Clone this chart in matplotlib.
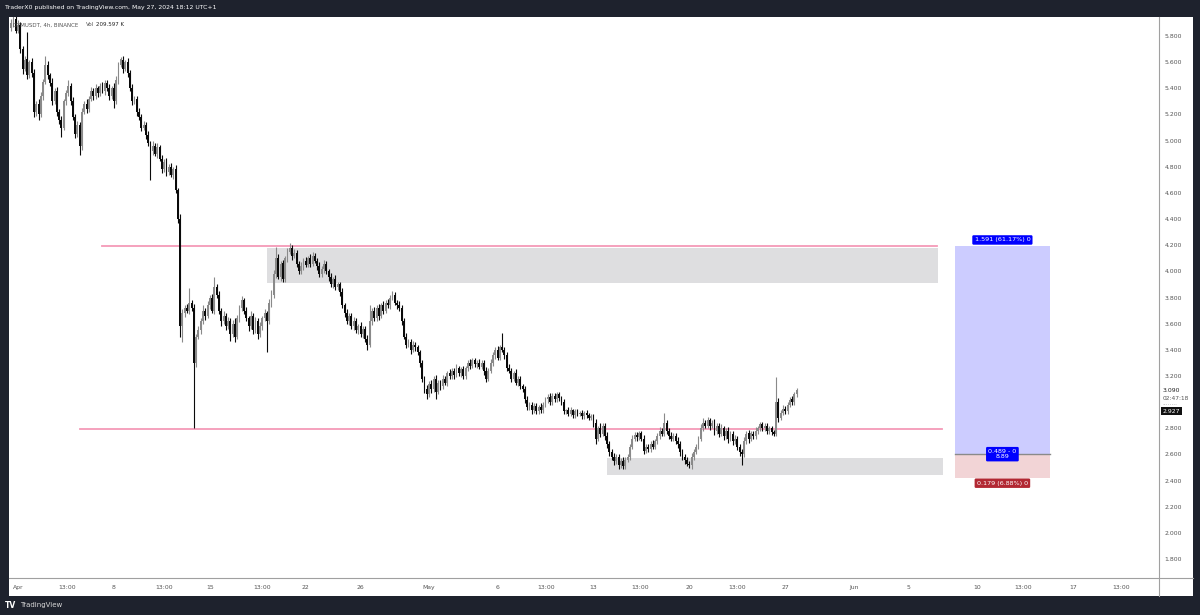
import numpy as np
import matplotlib
matplotlib.use("Agg")
import matplotlib.pyplot as plt
from matplotlib.patches import Rectangle
from matplotlib.lines import Line2D

# 4h candles, first one at Mar 31 12:00 (days counted from Apr 1 00:00)
T0 = -0.5
FIRST_OPEN = 5.86
CLOSE = [
    5.90, 5.93, 5.84, 5.88, 5.70, 5.55, 5.62, 5.50, 5.60, 5.52,
    5.22, 5.28, 5.20, 5.34, 5.45, 5.58, 5.50, 5.44, 5.30, 5.38,
    5.22, 5.16, 5.10, 5.30, 5.36, 5.42, 5.30, 5.18, 5.05, 5.12,
    4.96, 5.22, 5.28, 5.24, 5.32, 5.38, 5.34, 5.40, 5.36, 5.42,
    5.38, 5.44, 5.40, 5.34, 5.40, 5.30, 5.46, 5.58, 5.62, 5.55,
    5.60, 5.52, 5.40, 5.30, 5.32, 5.22, 5.18, 5.10, 5.12, 5.04,
    4.98, 4.92, 4.96, 4.90, 4.95, 4.86, 4.78, 4.84, 4.76, 4.80,
    4.74, 4.78, 4.62, 4.40, 3.58, 3.68, 3.72, 3.70, 3.76, 3.72,
    3.30, 3.50, 3.55, 3.62, 3.70, 3.66, 3.74, 3.80, 3.70, 3.88,
    3.82, 3.70, 3.62, 3.66, 3.58, 3.62, 3.52, 3.60, 3.50, 3.64,
    3.72, 3.78, 3.70, 3.64, 3.58, 3.66, 3.55, 3.62, 3.52, 3.58,
    3.64, 3.68, 3.62, 3.76, 3.82, 3.98, 4.10, 3.96, 4.06, 3.94,
    4.10, 4.15, 4.18, 4.12, 4.14, 4.06, 4.00, 4.04, 4.08, 4.05,
    4.10, 4.06, 4.12, 4.08, 4.04, 3.98, 4.02, 4.06, 4.00, 3.96,
    3.90, 3.94, 3.88, 3.90, 3.84, 3.74, 3.68, 3.62, 3.66, 3.58,
    3.62, 3.55, 3.58, 3.52, 3.56, 3.48, 3.44, 3.62, 3.70, 3.64,
    3.72, 3.66, 3.74, 3.70, 3.76, 3.74, 3.80, 3.82, 3.76, 3.74,
    3.72, 3.62, 3.50, 3.44, 3.46, 3.40, 3.44, 3.42, 3.38, 3.30,
    3.18, 3.10, 3.06, 3.14, 3.10, 3.18, 3.08, 3.15, 3.12, 3.18,
    3.15, 3.22, 3.20, 3.24, 3.21, 3.26, 3.22, 3.25, 3.20, 3.26,
    3.30, 3.28, 3.32, 3.29, 3.30, 3.27, 3.30, 3.24, 3.18, 3.24,
    3.30, 3.36, 3.40, 3.34, 3.42, 3.40, 3.36, 3.26, 3.24, 3.18,
    3.22, 3.15, 3.18, 3.12, 3.10, 3.02, 2.96, 2.98, 2.94, 2.97,
    2.93, 2.96, 2.94, 2.98, 3.02, 3.04, 3.00, 3.05, 3.02, 3.06,
    3.03, 3.00, 2.93, 2.94, 2.91, 2.94, 2.90, 2.93, 2.91, 2.92,
    2.89, 2.92, 2.90, 2.88, 2.89, 2.84, 2.72, 2.80, 2.76, 2.82,
    2.74, 2.68, 2.62, 2.58, 2.55, 2.58, 2.52, 2.55, 2.51, 2.56,
    2.58, 2.66, 2.72, 2.75, 2.73, 2.76, 2.72, 2.63, 2.66, 2.64,
    2.68, 2.66, 2.70, 2.74, 2.78, 2.76, 2.84, 2.78, 2.74, 2.72,
    2.74, 2.70, 2.68, 2.62, 2.58, 2.56, 2.53, 2.52, 2.58, 2.62,
    2.66, 2.72, 2.80, 2.84, 2.82, 2.86, 2.82, 2.84, 2.78, 2.82,
    2.76, 2.80, 2.74, 2.78, 2.72, 2.76, 2.70, 2.72, 2.66, 2.62,
    2.60, 2.70, 2.76, 2.72, 2.76, 2.74, 2.78, 2.80, 2.83, 2.80,
    2.82, 2.78, 2.80, 2.77, 2.76, 3.00, 2.88, 2.92, 2.95, 2.93,
    2.98, 3.02, 3.00, 3.06, 3.09,
]
# wick lengths above / below the body, in cents
WICK_UP = [
    3, 5, 2, 4, 3, 2, 3, 21, 2, 3,  3, 2, 4, 3, 2, 7, 3, 2, 4, 2,
    3, 2, 3, 2, 3, 4, 2, 3, 2, 3,  2, 3, 2, 4, 2, 3, 2, 3, 2, 2,
    3, 2, 2, 3, 2, 4, 3, 2, 2, 3,  2, 3, 2, 3, 2, 2, 3, 2, 3, 2,
    3, 2, 4, 2, 3, 2, 3, 2, 3, 2,  3, 2, 3, 2, 4, 3, 2, 3, 11, 2,
    3, 2, 3, 2, 4, 2, 3, 2, 3, 8,  2, 3, 2, 4, 2, 3, 2, 3, 4, 3,
    2, 3, 2, 3, 2, 4, 2, 3, 2, 3,  2, 3, 2, 3, 4, 3, 9, 3, 2, 3,
    2, 3, 4, 2, 3, 2, 2, 3, 2, 3,  2, 3, 3, 2, 2, 3, 2, 3, 2, 2,
    3, 2, 3, 2, 2, 3, 2, 3, 2, 2,  3, 2, 2, 3, 2, 2, 3, 12, 2, 3,
    2, 3, 2, 3, 2, 3, 2, 3, 2, 2,  3, 2, 2, 3, 2, 2, 3, 2, 2, 2,
    2, 2, 3, 2, 3, 2, 3, 2, 2, 3,  2, 2, 3, 2, 2, 3, 2, 2, 3, 2,
    2, 3, 2, 2, 2, 3, 2, 2, 3, 2,  3, 2, 2, 3, 2, 11, 2, 2, 3, 2,
    2, 3, 2, 2, 2, 2, 3, 2, 2, 2,  2, 2, 3, 2, 2, 2, 3, 2, 2, 2,
    2, 2, 2, 1, 2, 2, 1, 2, 2, 1,  2, 1, 2, 2, 2, 2, 3, 2, 4, 2,
    2, 3, 2, 2, 3, 2, 2, 2, 3, 2,  2, 2, 3, 2, 2, 2, 2, 3, 2, 2,
    2, 3, 2, 2, 3, 2, 8, 2, 2, 3,  2, 2, 3, 2, 2, 2, 2, 2, 3, 2,
    2, 2, 3, 4, 2, 3, 2, 2, 3, 2,  2, 3, 2, 2, 3, 2, 2, 3, 2, 2,
    2, 3, 2, 3, 2, 2, 3, 2, 2, 2,  2, 2, 2, 2, 2, 19, 3, 2, 3, 2,
    2, 2, 3, 2, 2,
]
WICK_DN = [
    2, 3, 2, 2, 3, 4, 2, 3, 2, 3,  4, 3, 4, 2, 3, 2, 3, 2, 3, 2,
    3, 3, 7, 2, 3, 2, 3, 2, 3, 2,  7, 3, 2, 3, 2, 2, 3, 2, 3, 2,
    2, 3, 2, 3, 2, 5, 2, 3, 2, 3,  2, 3, 2, 3, 2, 3, 2, 3, 2, 3,
    2, 22, 3, 2, 3, 2, 3, 2, 3, 2,  2, 3, 2, 3, 8, 12, 3, 2, 3, 2,
    50, 3, 2, 3, 2, 3, 2, 3, 2, 3,  2, 3, 4, 2, 3, 2, 5, 2, 4, 2,
    3, 2, 3, 2, 4, 2, 3, 2, 4, 2,  3, 2, 24, 2, 3, 2, 3, 2, 3, 2,
    2, 3, 2, 3, 2, 3, 2, 2, 3, 2,  2, 3, 2, 2, 3, 2, 2, 3, 2, 3,
    2, 3, 2, 2, 3, 2, 3, 2, 3, 2,  3, 2, 3, 2, 3, 2, 4, 2, 3, 2,
    2, 3, 2, 3, 2, 2, 3, 2, 2, 3,  2, 3, 2, 3, 2, 3, 2, 3, 2, 3,
    3, 3, 4, 2, 3, 2, 6, 2, 3, 2,  2, 3, 2, 2, 3, 2, 2, 3, 2, 2,
    2, 3, 2, 2, 3, 2, 2, 3, 3, 2,  2, 2, 3, 2, 2, 2, 3, 2, 2, 3,
    2, 2, 3, 2, 2, 3, 2, 2, 3, 2,  2, 2, 2, 2, 2, 3, 2, 2, 2, 2,
    2, 2, 2, 2, 2, 2, 2, 2, 2, 2,  2, 2, 2, 2, 2, 3, 4, 2, 3, 2,
    3, 3, 3, 2, 3, 2, 3, 2, 2, 2,  2, 2, 2, 2, 3, 2, 2, 3, 2, 2,
    2, 2, 2, 2, 2, 2, 2, 2, 2, 2,  2, 2, 3, 3, 2, 3, 2, 2, 3, 2,
    2, 2, 2, 2, 2, 2, 3, 2, 3, 2,  3, 2, 3, 2, 3, 2, 3, 2, 3, 3,
    8, 2, 2, 3, 2, 2, 2, 2, 2, 2,  2, 2, 2, 2, 2, 2, 3, 2, 2, 2,
    2, 2, 2, 2, 2,
]

PRICE_TICKS = [1.8, 2.0, 2.2, 2.4, 2.6, 2.8, 3.0, 3.2, 3.4, 3.6, 3.8,
               4.0, 4.2, 4.4, 4.6, 4.8, 5.0, 5.2, 5.4, 5.6, 5.8]
TIME_TICKS = [0, 3.6, 7, 10.7, 14, 17.8, 21, 25, 30, 35, 38.55, 42, 45.4,
              49, 52.5, 56, 61, 65, 70, 73.4, 77, 80.5]
TIME_LABELS = ["Apr", "13:00", "8", "13:00", "15", "13:00", "22", "26", "May",
               "6", "13:00", "13", "13:00", "20", "13:00", "27", "Jun", "5",
               "10", "13:00", "17", "13:00"]

# drawings: (start day, end day, level)
UPPER_LINE = (6.1, 67.1, 4.19)
LOWER_LINE = (4.5, 67.45, 2.794)
UPPER_ZONE = (18.2, 67.15, 3.91, 4.18)
LOWER_ZONE = (43.0, 67.5, 2.443, 2.573)
POS_X = (68.4, 75.3)
ENTRY, TARGET, STOP = 2.601, 4.192, 2.422
LAST_PRICE = 3.090

W, H = 1200, 615
BG = "#1e222d"


def fx(px):
    return px / W


def fy(py):
    return 1 - py / H


fig = plt.figure(figsize=(12, 6.15), dpi=100, facecolor=BG)
fig.patches.append(Rectangle((fx(9), fy(596)), fx(1193) - fx(9), fy(17) - fy(596),
                             transform=fig.transFigure, facecolor="white",
                             edgecolor="none", zorder=-5))
ax = fig.add_axes([fx(9), fy(578), fx(1159) - fx(9), fy(17) - fy(578)])
ax.set_zorder(2)
ax.patch.set_alpha(0)

close = np.array(CLOSE)
opn = np.r_[FIRST_OPEN, close[:-1]]
t = T0 + np.arange(len(close)) / 6
top = np.maximum(opn, close)
bot = np.minimum(opn, close)
hi = top + np.array(WICK_UP) / 100
lo = bot - np.array(WICK_DN) / 100
cols = np.where(close >= opn, "#8a8a8a", "#0a0a0a")

# zones and levels
for x0, x1, y0, y1 in [UPPER_ZONE, LOWER_ZONE]:
    ax.add_patch(Rectangle((x0, y0), x1 - x0, y1 - y0, facecolor="#dedee0",
                           edgecolor="none", zorder=1))
for x0, x1, y in [UPPER_LINE, LOWER_LINE]:
    ax.plot([x0, x1], [y, y], color="#f59ab8", lw=1.3, zorder=2)

# candles
ax.vlines(t, lo, hi, colors=cols, lw=0.8, zorder=3)
ax.bar(t, np.maximum(top - bot, 0.008), bottom=bot, width=0.135, color=cols,
       linewidth=0, zorder=4)

# long position tool
px0, px1 = POS_X
ax.add_patch(Rectangle((px0, ENTRY), px1 - px0, TARGET - ENTRY,
                       facecolor="#ccccff", edgecolor="none", zorder=2))
ax.add_patch(Rectangle((px0, STOP), px1 - px0, ENTRY - STOP,
                       facecolor="#f2d4d6", edgecolor="none", zorder=2))
ax.plot([px0, px1], [ENTRY, ENTRY], color="#8a8a8a", lw=1, zorder=3)
xm = (px0 + px1) / 2
lbl = dict(ha="center", va="center", color="white", fontsize=4.6, zorder=6)
ax.text(xm, 4.24, "1.591 (61.17%) 0",
        bbox=dict(boxstyle="round,pad=0.35,rounding_size=0.2", fc="#0000ff", ec="none"), **lbl)
ax.text(xm, 2.602, "0.489 - 0\n8.89", linespacing=1.0,
        bbox=dict(boxstyle="round,pad=0.35,rounding_size=0.2", fc="#0000ff", ec="none"), **lbl)
ax.text(xm, 2.38, "0.179 (6.88%) 0",
        bbox=dict(boxstyle="round,pad=0.35,rounding_size=0.2", fc="#b22833", ec="none"), **lbl)

ax.set_xlim(-0.657, 83.28)
ax.set_ylim(1.655, 5.945)
for s in ax.spines.values():
    s.set_visible(False)
ax.yaxis.tick_right()
ax.set_yticks(PRICE_TICKS)
# the 3.000 label sits under the last-price label on the scale
ax.set_yticklabels(["" if p == 3.0 else f"{p:.3f}" for p in PRICE_TICKS])
ax.set_xticks(TIME_TICKS)
ax.set_xticklabels(TIME_LABELS)
ax.tick_params(axis="y", length=0, pad=4, labelsize=4.4, labelcolor="#555555")
ax.tick_params(axis="x", length=0, pad=5, labelsize=4.4, labelcolor="#555555")

# last price labels on the price scale
ytr = ax.get_yaxis_transform()
ax.text(1.003, LAST_PRICE, f"{LAST_PRICE:.3f}", transform=ytr, fontsize=4.4,
        color="#222222", va="center", ha="left", clip_on=False)
ax.text(1.003, 3.03, "02:47:18", transform=ytr, fontsize=4.2,
        color="#555555", va="center", ha="left", clip_on=False)
ax.text(1.003, 2.992, "........", transform=ytr, fontsize=4.2,
        color="#999999", va="center", ha="left", clip_on=False)
ax.text(1.0035, 2.932, "2.927", transform=ytr, fontsize=4.4,
        color="white", va="center", ha="left", clip_on=False,
        bbox=dict(boxstyle="square,pad=0.25", fc="#111111", ec="none"))

# frame lines of the chart
fig.add_artist(Line2D([fx(9), fx(1193)], [fy(578), fy(578)], color="#a0a0a0", lw=0.8))
fig.add_artist(Line2D([fx(1159), fx(1159)], [fy(17), fy(596)], color="#a0a0a0", lw=0.8))

# header / legend texts
fig.text(fx(5), fy(8), "TraderX0 published on TradingView.com, May 27, 2024 18:12 UTC+1",
         color="white", fontsize=4.4, va="center", ha="left")
ax.text(fx(13), fy(25), "DYMUSDT, 4h, BINANCE", transform=fig.transFigure,
        color="#555555", fontsize=4.0, va="center", ha="left", zorder=7)
ax.text(fx(86), fy(25), "Vol", transform=fig.transFigure,
        color="#555555", fontsize=4.0, va="center", ha="left", zorder=7)
ax.text(fx(96), fy(25), "209.597 K", transform=fig.transFigure,
        color="#222222", fontsize=4.0, va="center", ha="left", zorder=7)
fig.text(fx(5), fy(605), "TV", color="white", fontsize=5.5, fontweight="bold",
         va="center", ha="left")
fig.text(fx(20), fy(605), "TradingView", color="#d8d8d8", fontsize=5.0,
         va="center", ha="left")

fig.savefig("out.png", dpi=100, facecolor=BG)
